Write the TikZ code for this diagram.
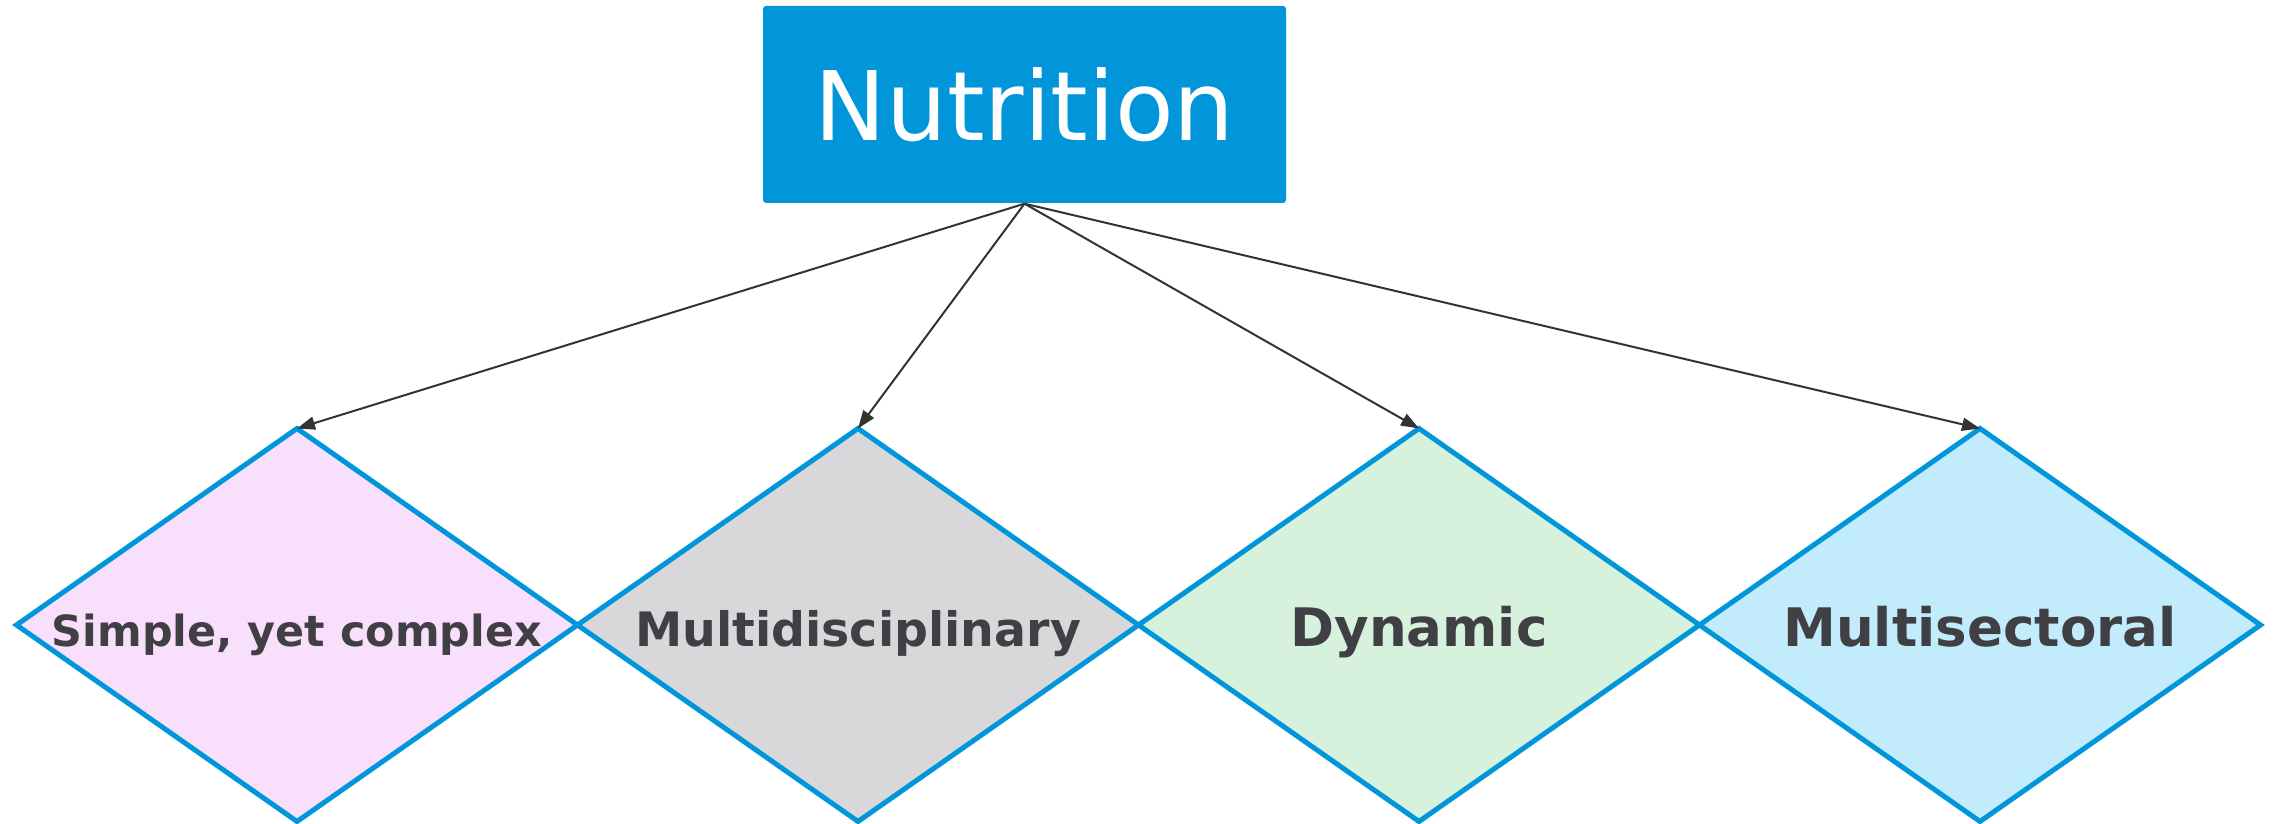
\documentclass[tikz,border=0pt]{standalone}
\usepackage{fontspec}
\setmainfont{DejaVu Sans}
\usetikzlibrary{positioning,arrows.meta,shapes.geometric}
\definecolor{ntBlue}{RGB}{0,150,217}
\definecolor{ntPink}{RGB}{248,224,253}
\definecolor{ntGray}{RGB}{216,216,219}
\definecolor{ntGreen}{RGB}{214,241,220}
\definecolor{ntSky}{RGB}{194,235,252}
\definecolor{ntText}{RGB}{64,64,68}
\definecolor{ntArrow}{RGB}{51,51,51}

\begin{document}
\begin{tikzpicture}[
  topic/.style={rectangle, rounded corners=0.03cm, fill=ntBlue, text=white,
    minimum width=5.23cm, minimum height=1.97cm, inner sep=0pt,
    font=\fontsize{27.3}{32}\selectfont},
  facet/.style={diamond, aspect=1.43, draw=ntBlue, line width=0.05cm,
    minimum width=5.61cm, minimum height=3.93cm, inner sep=0pt, outer sep=0pt,
    text=ntText, text height=0.43cm, text depth=0pt},
  link/.style={-{Triangle[length=0.18cm,width=0.13cm]}, draw=ntArrow,
    line width=0.02cm}
]
  \useasboundingbox (0,0) rectangle (22.78,8.24);

  % Top box
  \node[topic] (nut) at (10.245,7.195) {Nutrition};

  % Diamonds, side by side
  \node[facet, fill=ntPink, font=\bfseries\fontsize{12.2}{14}\selectfont]
    (simple) at (2.97,1.99) {Simple, yet complex};
  \node[facet, fill=ntGray, font=\bfseries\fontsize{13.5}{16}\selectfont,
    right=0pt of simple] (multid) {Multidisciplinary};
  \node[facet, fill=ntGreen, font=\bfseries\fontsize{15.1}{18}\selectfont,
    right=0pt of multid] (dyn) {Dynamic};
  \node[facet, fill=ntSky, font=\bfseries\fontsize{15.1}{18}\selectfont,
    right=0pt of dyn] (multis) {Multisectoral};

  % Arrows
  \foreach \d in {simple,multid,dyn,multis}
    \draw[link] (nut.south) -- (\d.north);
\end{tikzpicture}
\end{document}
